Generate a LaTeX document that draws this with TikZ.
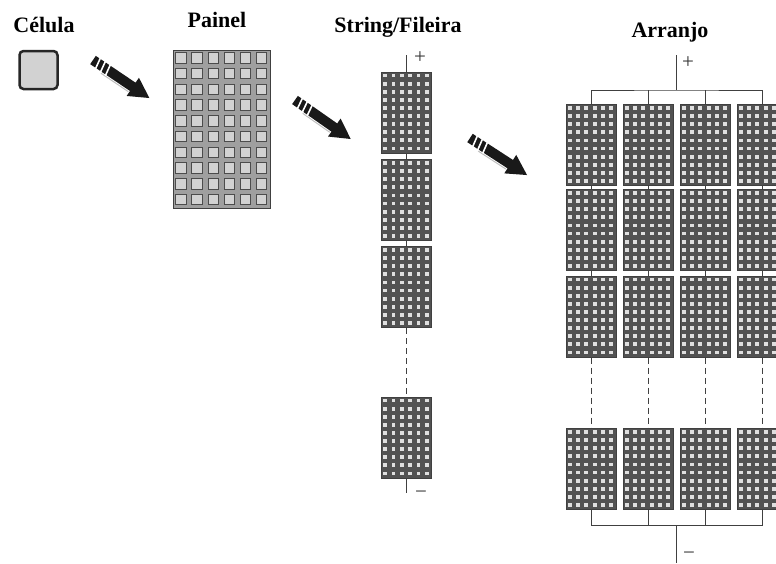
\documentclass[tikz,border=0pt]{standalone}
\usepackage{fontspec}
\setmainfont{Liberation Serif}
\usetikzlibrary{positioning}

\tikzset{
  title/.style={font=\bfseries\fontsize{22}{24}\selectfont, inner sep=0pt},
  sign/.style={font=\fontsize{21}{22}\selectfont, inner sep=0pt, text=black!80},
  cellbox/.style={draw=black!85, line width=2.5pt, fill=gray!35, rounded corners=4pt,
    minimum width=38pt, minimum height=38pt, inner sep=0pt},
  panelbox/.style={draw=black!75, line width=1pt, fill=gray!75, minimum width=97pt,
    minimum height=158pt, inner sep=0pt},
  modbox/.style={draw=black!75, line width=1pt, fill=black!68, minimum width=50pt,
    minimum height=81pt, inner sep=0pt},
  wire/.style={draw=black!75, line width=1pt},
  gapwire/.style={wire, dash pattern=on 6pt off 4pt},
  fatarrow/.pic={
    \fill[black!90] (0,-5) -- (48,-5) -- (48,-11) -- (68,0) -- (48,11) -- (48,5) -- (0,5) -- cycle;
    \draw[gray!50, line width=1pt] (14,6.5) -- (47,6.5);
    \foreach \s in {5,11,17}
      \draw[white, line width=1.6pt] (\s,-6) -- (\s+2,6);
  }
}

% cells of one module
\newcommand{\modgrid}[1]{%
  \begin{scope}[shift={(#1.north west)}]
    \foreach \i in {0,...,5}
      \foreach \j in {0,...,9}
        \fill[gray!25] (2.3+8.33*\i,2.1+8.1*\j) rectangle ++(3.8,3.8);
  \end{scope}}

\begin{document}
\begin{tikzpicture}[x=1pt,y=-1pt]
\useasboundingbox (0,0) rectangle (776,563);
\clip (0,0) rectangle (776,563);

% celula
\node[title] (tcel) at (44,25) {Célula};
\node[cellbox] (cel) at (38.5,70) {};
\pic[rotate=-34] at (93,60) {fatarrow};

% painel
\node[title] (tpan) at (217,20) {Painel};
\node[panelbox] (pan) at (221.5,129) {};
\begin{scope}[shift={(pan.north west)}]
  \foreach \i in {0,...,5}
    \foreach \j in {0,...,9}
      \filldraw[fill=gray!35, draw=black!70, line width=0.8pt]
        (3.2+16.1*\i,3+15.75*\j) rectangle ++(10.5,10.5);
\end{scope}
\pic[rotate=-35] at (295,100) {fatarrow};

% string
\node[title] (tstr) at (398,27) {String/Fileira};
\node[modbox] (s1) at (406.5,112.5) {};
\node[modbox] (s2) at (406.5,200) {};
\node[modbox] (s3) at (406.5,287) {};
\node[modbox] (s4) at (406.5,437.5) {};
\foreach \m in {s1,s2,s3,s4} {\modgrid{\m}}
\coordinate (stop) at (406.5,55);
\coordinate (sbot) at (406.5,493);
\draw[wire] (stop) -- (s1.north);
\draw[wire] (s1.south) -- (s2.north);
\draw[wire] (s2.south) -- (s3.north);
\draw[gapwire] (s3.south) -- (s4.north);
\draw[wire] (s4.south) -- (sbot);
\node[sign] (splus) at (420,58) {+};
\node[sign] (sminus) at (421,495) {−};
\pic[rotate=-33] at (470,138) {fatarrow};

% arranjo
\node[title] (tarr) at (670,32) {Arranjo};
\foreach \c/\x in {1/591,2/648,3/705,4/762} {
  \node[modbox] (a\c1) at (\x,145) {};
  \node[modbox] (a\c2) at (\x,230) {};
  \node[modbox] (a\c3) at (\x,316.5) {};
  \node[modbox] (a\c4) at (\x,469) {};
  \modgrid{a\c1}\modgrid{a\c2}\modgrid{a\c3}\modgrid{a\c4}
  \draw[wire] (a\c1.south) -- (a\c2.north);
  \draw[wire] (a\c2.south) -- (a\c3.north);
  \draw[gapwire] (a\c3.south) -- (a\c4.north);
}
\coordinate (atop) at (676,55);
\coordinate (abus) at (676,90);
\coordinate (bbus) at (676,525);
\coordinate (abot) at (676,563);
\draw[wire] (atop) -- (abus);
\draw[wire] (a11.north) |- (abus) -| (a41.north);
\draw[wire] (a21.north) -- (a21.north |- abus);
\draw[wire] (a31.north) -- (a31.north |- abus);
\draw[wire] (a14.south) |- (bbus) -| (a44.south);
\draw[wire] (a24.south) -- (a24.south |- bbus);
\draw[wire] (a34.south) -- (a34.south |- bbus);
\draw[wire] (bbus) -- (abot);
\node[sign] (aplus) at (688,63) {+};
\node[sign] (aminus) at (689,556) {−};
\end{tikzpicture}
\end{document}
